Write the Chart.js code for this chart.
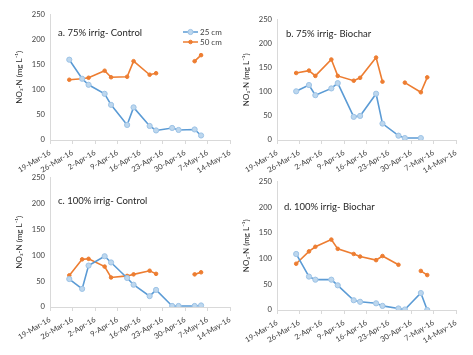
<!DOCTYPE html>
<html><head><meta charset="utf-8">
<script src="https://cdn.jsdelivr.net/npm/chart.js@4/dist/chart.umd.min.js"></script>
<style>
html,body{margin:0;padding:0;background:#fff;width:473px;height:355px;overflow:hidden}
canvas{position:absolute;left:0;top:0}
</style>
</head><body>
<canvas id="pa" width="473" height="355"></canvas>
<canvas id="pb" width="473" height="355"></canvas>
<canvas id="pc" width="473" height="355"></canvas>
<canvas id="pd" width="473" height="355"></canvas>
<script>
// ---- data ----
const sampleDates = ['2016-03-25','2016-03-29','2016-03-31','2016-04-05','2016-04-07','2016-04-12','2016-04-14','2016-04-19','2016-04-21','2016-04-26','2016-04-28','2016-05-03','2016-05-05'];
const xTickLabels = ['19-Mar-16','26-Mar-16','2-Apr-16','9-Apr-16','16-Apr-16','23-Apr-16','30-Apr-16','7-May-16','14-May-16'];
const yTicks = [0, 50, 100, 150, 200, 250];
const seriesNames = ['25 cm', '50 cm'];
const panelTitles = ['a. 75% irrig- Control', 'b. 75% irrig- Biochar', 'c. 100% irrig- Control', 'd. 100% irrig- Biochar'];
const yAxisTitle = 'NO\u2083-N (mg L\u207B\u00B9)';

const a25 = [160, 122, 110, 92, 70, 30, 65, 28, 19, 24, 20, 21, 9];
const a50 = [120, 122, 124, 138, 125, 126, 157, 130, 133, null, null, 157, 169];
const b25 = [101, 114, 93, 107, 118, 48, 50, 96, 34, 9, 4, 4, null];
const b50 = [139, 144, 133, 167, 133, 123, 129, 171, 121, null, 119, 99, 130];
const c25 = [54, 35, 80, 98, 86, 56, 43, 21, 33, 2, 2, 2, 3];
const c50 = [61, 92, 93, 78, 57, 60, 63, 70, 64, null, null, 63, 67];
const d25 = [109, 65, 59, 59, 48, 19, 16, 13, 8, 3, 1, 33, 0];
const d50 = [90, 114, 123, 137, 119, 109, 104, 97, 105, 88, null, 76, 68];

// ---- layout ----
const W = 473, H = 355, YW = 40, XH = 34, TOPOV = 4.5, RIGHTOV = 2;
const startMs = Date.UTC(2016, 2, 19);
const dayOf = s => (Date.parse(s + 'T00:00:00Z') - startMs) / 86400000;
const days = sampleDates.map(dayOf);

const BLUE = '#5b9bd5', BLUE_PT = '#bdd7ee', ORANGE = '#ed7d31';
const FONT = 'Lato';

const panelText = {
  id: 'panelText',
  afterDraw(chart, args, o) {
    const ctx = chart.ctx;
    ctx.save();
    ctx.font = '9.5px ' + FONT;
    ctx.fillStyle = '#262626';
    ctx.textBaseline = 'middle';
    ctx.textAlign = 'left';
    ctx.fillText(o.title, o.tx, o.ty);
    if (o.legend) {
      chart.data.datasets.forEach((ds, i) => {
        const y = o.ly + i * 10;
        ctx.strokeStyle = ds.borderColor;
        ctx.lineWidth = 1.5;
        ctx.beginPath(); ctx.moveTo(o.lx, y); ctx.lineTo(o.lx + 15, y); ctx.stroke();
        ctx.beginPath(); ctx.arc(o.lx + 7.5, y, ds.pointRadius, 0, Math.PI * 2);
        ctx.fillStyle = ds.pointBackgroundColor; ctx.fill();
        ctx.strokeStyle = ds.pointBorderColor; ctx.lineWidth = 1; ctx.stroke();
        ctx.font = '8px ' + FONT;
        ctx.fillStyle = '#404040';
        ctx.fillText(ds.label, o.lx + 17, y);
      });
    }
    ctx.restore();
  }
};

function makePanel(id, s25, s50, area, title, tpos, legend) {
  new Chart(document.getElementById(id), {
    type: 'line',
    data: {
      datasets: [
        { label: seriesNames[0], data: days.map((x, i) => ({ x, y: s25[i] })),
          borderColor: BLUE, backgroundColor: BLUE, borderWidth: 1.6,
          pointRadius: 2.6, pointBackgroundColor: BLUE_PT, pointBorderColor: '#9dc3e6', pointBorderWidth: 1,
          spanGaps: false, tension: 0 },
        { label: seriesNames[1], data: days.map((x, i) => ({ x, y: s50[i] })),
          borderColor: ORANGE, backgroundColor: ORANGE, borderWidth: 1.6,
          pointRadius: 1.8, pointBackgroundColor: ORANGE, pointBorderColor: ORANGE, pointBorderWidth: 1,
          spanGaps: false, tension: 0 }
      ]
    },
    options: {
      responsive: false, animation: false, devicePixelRatio: 1,
      layout: { padding: { left: area.l - YW, right: W - area.r - RIGHTOV, top: area.t - TOPOV, bottom: H - area.b - XH } },
      scales: {
        x: {
          type: 'linear', min: 0, max: 56,
          afterBuildTicks: s => { s.ticks = xTickLabels.map((_, i) => ({ value: i * 7 })); },
          ticks: { autoSkip: false, minRotation: 31, maxRotation: 31, padding: 4,
            callback: v => xTickLabels[Math.round(v / 7)],
            font: { family: FONT, size: 7.6 }, color: '#404040' },
          grid: { drawOnChartArea: false, tickLength: 4, color: '#d9d9d9' },
          border: { color: '#d9d9d9' },
          afterFit: s => { s.height = XH; }
        },
        y: {
          min: 0, max: 250,
          afterBuildTicks: s => { s.ticks = yTicks.map(v => ({ value: v })); },
          ticks: { padding: 5, font: { family: FONT, size: 7.6 }, color: '#404040' },
          grid: { display: false, drawTicks: false },
          border: { color: '#d9d9d9' },
          title: { display: true, text: yAxisTitle, padding: { top: 5, bottom: 0 },
            font: { family: FONT, size: 8 }, color: '#262626' },
          afterFit: s => { s.width = YW; }
        }
      },
      plugins: {
        legend: { display: false },
        tooltip: { enabled: false },
        panelText: { title, tx: tpos[0], ty: tpos[1], legend, lx: 183, ly: 32 }
      }
    },
    plugins: [panelText]
  });
}

makePanel('pa', a25, a50, { l: 50, r: 228, t: 19, b: 140 }, panelTitles[0], [58, 33], true);
makePanel('pb', b25, b50, { l: 277, r: 454, t: 24, b: 140 }, panelTitles[1], [286, 34], false);
makePanel('pc', c25, c50, { l: 50, r: 228, t: 182, b: 307 }, panelTitles[2], [58, 201], false);
makePanel('pd', d25, d50, { l: 277, r: 454, t: 186, b: 310 }, panelTitles[3], [284, 207], false);
</script>
</body></html>
